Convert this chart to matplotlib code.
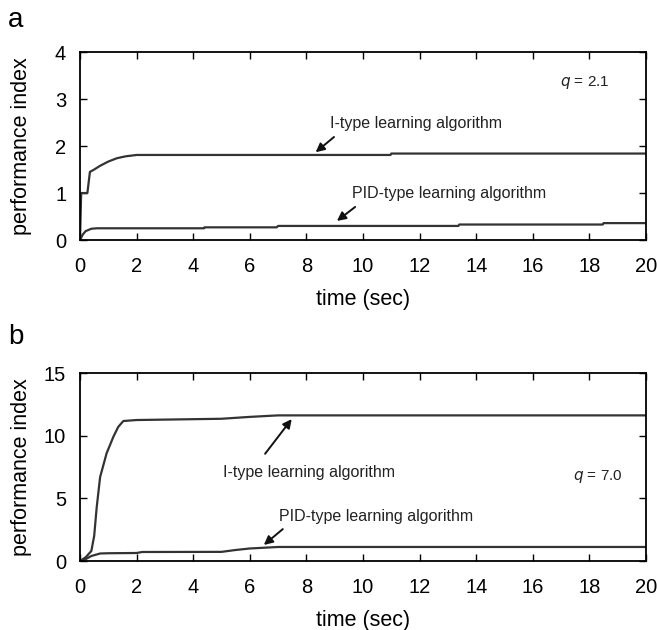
import matplotlib
matplotlib.use("Agg")
import matplotlib.pyplot as plt

plt.rcParams['font.family'] = ['Liberation Sans', 'DejaVu Sans']

# Panel a (q = 2.1)
t_a_i = [0.0, 0.04, 0.05, 0.26, 0.35, 0.5, 0.71, 1.0, 1.3, 1.6, 2.0, 4.0, 10.97, 11.0, 20.0]
y_a_i = [0.0, 1.0, 1.0, 1.0, 1.45, 1.50, 1.58, 1.67, 1.74, 1.78, 1.81, 1.81, 1.81, 1.84, 1.84]
t_a_p = [0.0, 0.1, 0.2, 0.4, 0.6, 4.38, 4.4, 6.95, 7.0, 13.37, 13.4, 18.47, 18.5, 20.0]
y_a_p = [0.0, 0.12, 0.19, 0.24, 0.25, 0.25, 0.27, 0.27, 0.30, 0.30, 0.33, 0.33, 0.36, 0.36]

# Panel b (q = 7.0)
t_b_i = [0.0, 0.2, 0.4, 0.5, 0.59, 0.71, 0.94, 1.18, 1.35, 1.53, 2.0, 5.0, 6.0, 7.0, 20.0]
y_b_i = [0.0, 0.3, 0.8, 2.0, 4.3, 6.7, 8.6, 9.92, 10.7, 11.17, 11.25, 11.35, 11.5, 11.62, 11.62]
t_b_p = [0.0, 0.2, 0.4, 0.71, 1.0, 2.0, 2.2, 5.0, 5.5, 6.0, 7.0, 20.0]
y_b_p = [0.0, 0.15, 0.4, 0.6, 0.62, 0.64, 0.72, 0.73, 0.88, 1.0, 1.12, 1.12]

xticks = [0, 2, 4, 6, 8, 10, 12, 14, 16, 18, 20]
yticks_a = [0, 1, 2, 3, 4]
yticks_b = [0, 5, 10, 15]

fig = plt.figure(figsize=(6.57, 6.30), dpi=100)
ax_a = fig.add_axes([0.1218, 0.619, 0.8615, 0.2984])
ax_b = fig.add_axes([0.1218, 0.1095, 0.8615, 0.2984])

line_col = '#333333'

def style(ax, yticks, ylim):
    ax.set_xlim(0, 20)
    ax.set_ylim(*ylim)
    ax.set_xticks(xticks)
    ax.set_yticks(yticks)
    ax.tick_params(direction='in', top=True, right=True, length=5, width=1.0,
                   labelsize=14.5, colors='black')
    ax.tick_params(axis='x', pad=12.5)
    ax.tick_params(axis='y', pad=10)
    for s in ax.spines.values():
        s.set_linewidth(1.3)
        s.set_color('black')
    ax.set_xlabel('time (sec)', fontsize=15.5, labelpad=9)
    ax.set_ylabel('performance index', fontsize=15.5)
    ax.yaxis.set_label_coords(-0.084, 0.5)

arrow = dict(arrowstyle='-|>', color='#111111', lw=1.4, mutation_scale=13)
afs = 11.5

# Panel a
ax_a.plot(t_a_i, y_a_i, color=line_col, lw=1.6)
ax_a.plot(t_a_p, y_a_p, color=line_col, lw=1.6)
style(ax_a, yticks_a, (0, 4))
ax_a.text(8.83, 2.47, 'I-type learning algorithm', fontsize=afs, va='center', ha='left', color='#222222')
ax_a.annotate('', xy=(8.25, 1.83), xytext=(9.05, 2.23), arrowprops=arrow)
ax_a.text(9.62, 0.99, 'PID-type learning algorithm', fontsize=afs, va='center', ha='left', color='#222222')
ax_a.annotate('', xy=(9.0, 0.37), xytext=(9.8, 0.74), arrowprops=arrow)
ax_a.text(16.96, 3.35, r'$q$ = 2.1', fontsize=11, va='center', ha='left', color='#222222')

# Panel b
ax_b.plot(t_b_i, y_b_i, color=line_col, lw=1.6)
ax_b.plot(t_b_p, y_b_p, color=line_col, lw=1.6)
style(ax_b, yticks_b, (0, 15))
ax_b.text(5.04, 7.05, 'I-type learning algorithm', fontsize=afs, va='center', ha='left', color='#222222')
ax_b.annotate('', xy=(7.54, 11.5), xytext=(6.48, 8.38), arrowprops=arrow)
ax_b.text(7.04, 3.59, 'PID-type learning algorithm', fontsize=afs, va='center', ha='left', color='#222222')
ax_b.annotate('', xy=(6.42, 1.14), xytext=(7.24, 2.69), arrowprops=arrow)
ax_b.text(17.43, 6.73, r'$q$ = 7.0', fontsize=11, va='center', ha='left', color='#222222')

fig.text(0.012, 0.968, 'a', fontsize=20, va='center', ha='left')
fig.text(0.012, 0.465, 'b', fontsize=20, va='center', ha='left')

fig.savefig('out.png', dpi=100)
